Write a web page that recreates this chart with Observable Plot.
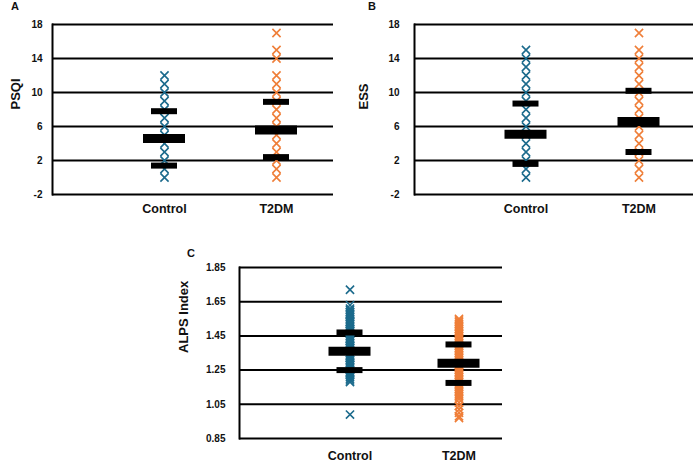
<!DOCTYPE html>
<html><head><meta charset="utf-8">
<script src="https://cdn.jsdelivr.net/npm/d3@7"></script>
<script src="https://cdn.jsdelivr.net/npm/@observablehq/plot@0.6"></script>
<style>
body{margin:0;background:#fff;font-family:"Liberation Sans",Arial,sans-serif;}
#root{position:relative;width:694px;height:465px;overflow:hidden;background:#fff;}
.panel{position:absolute;}
.letter{position:absolute;font-weight:bold;font-size:11px;line-height:11px;color:#111;}
</style></head><body><div id="root"></div>
<script>
const groups = ["Control", "T2DM"];
const groupColors = ["#1b6a8c", "#ef7e38"];

// Panel A: PSQI
const psqiControl = [0,1,2,3,4,5,6,7,8,9,10,11,12];
const psqiT2DM = [0,1,2,3,4,5,6,7,8,9,10,11,12,14,15,17];
const psqiMean = [4.6, 5.6];
const psqiUpper = [7.8, 8.9];
const psqiLower = [1.4, 2.4];
const psqiTicks = [-2, 2, 6, 10, 14, 18];

// Panel B: ESS
const essControl = [0,1,2,3,4,5,6,7,8,9,10,11,12,13,14,15];
const essT2DM = [0,1,2,3,4,5,6,7,8,9,10,11,12,13,14,15,17];
const essMean = [5.1, 6.6];
const essUpper = [8.7, 10.2];
const essLower = [1.6, 3.0];
const essTicks = [-2, 2, 6, 10, 14, 18];

// Panel C: ALPS index
const alpsControl = [1.72,1.63,1.61,1.60,1.59,1.58,1.58,1.57,1.56,1.55,1.54,1.53,1.53,1.52,1.51,1.50,1.49,1.48,1.48,1.47,1.46,1.45,1.44,1.43,1.43,1.42,1.41,1.40,1.39,1.38,1.38,1.37,1.36,1.35,1.34,1.33,1.33,1.32,1.31,1.30,1.29,1.28,1.28,1.27,1.26,1.25,1.24,1.23,1.23,1.22,1.21,1.20,1.19,1.18,0.99];
const alpsT2DM = [1.55,1.54,1.53,1.52,1.51,1.50,1.49,1.48,1.47,1.46,1.45,1.44,1.43,1.42,1.41,1.40,1.39,1.38,1.37,1.36,1.35,1.34,1.33,1.32,1.31,1.30,1.29,1.28,1.27,1.26,1.25,1.24,1.23,1.22,1.21,1.20,1.19,1.18,1.17,1.16,1.15,1.14,1.13,1.12,1.11,1.10,1.09,1.08,1.06,1.04,1.02,1.00,0.98,0.97];
const alpsMean = [1.36, 1.29];
const alpsUpper = [1.47, 1.40];
const alpsLower = [1.25, 1.175];
const alpsTicks = [0.85, 1.05, 1.25, 1.45, 1.65, 1.85];

function toPoints(a, b) {
  return [...a.map(v => ({g: groups[0], v})), ...b.map(v => ({g: groups[1], v}))];
}
function toStats(arr) { return arr.map((v, i) => ({g: groups[i], v})); }

function panel(cfg) {
  const bw = (cfg.range[1] - cfg.range[0]) / 2;
  const meanInset = (bw - 42) / 2;
  const sdInset = (bw - 26) / 2;
  const chart = Plot.plot({
    width: cfg.width, height: cfg.height,
    marginLeft: cfg.ml, marginRight: cfg.mr, marginTop: cfg.mt, marginBottom: cfg.mb,
    x: {type: "band", domain: groups, range: cfg.range, padding: 0},
    y: {domain: cfg.domain},
    color: {domain: groups, range: groupColors},
    style: {fontFamily: '"Liberation Sans", Arial, sans-serif', color: "#111", background: "transparent", overflow: "visible"},
    marks: [
      Plot.ruleY(cfg.ticks, {stroke: "#000", strokeWidth: 2}),
      Plot.frame({anchor: "left", stroke: "#000", strokeWidth: 2}),
      Plot.dot(cfg.points, {x: "g", y: "v", symbol: "times", r: 3.8, stroke: "g", strokeWidth: 1.6}),
      Plot.tickY(cfg.sd, {x: "g", y: "v", stroke: "#000", strokeWidth: 6, insetLeft: sdInset, insetRight: sdInset}),
      Plot.tickY(cfg.mean, {x: "g", y: "v", stroke: "#000", strokeWidth: 9, insetLeft: meanInset, insetRight: meanInset}),
      Plot.axisY(cfg.ticks, {tickSize: 0, tickPadding: cfg.tp, tickFormat: cfg.fmt, fontSize: 10, fontWeight: "bold", label: null}),
      Plot.axisX({tickSize: 0, tickPadding: cfg.xp, fontSize: 12.5, fontWeight: "bold", label: null}),
      Plot.text([cfg.label], {frameAnchor: "left", rotate: -90, dx: -cfg.lo, fontSize: 13, fontWeight: "bold"})
    ]
  });
  const div = document.createElement("div");
  div.className = "panel";
  div.style.left = cfg.left + "px";
  div.style.top = cfg.top + "px";
  div.appendChild(chart);
  document.getElementById("root").appendChild(div);
}

function letter(t, x, y) {
  const d = document.createElement("div");
  d.className = "letter";
  d.textContent = t;
  d.style.left = x + "px";
  d.style.top = y + "px";
  document.getElementById("root").appendChild(d);
}

panel({left: 0, top: 0, width: 345, height: 220, ml: 52, mr: 12, mt: 24, mb: 26,
  range: [108, 332], domain: [-2, 18], ticks: psqiTicks, fmt: d => d, tp: 10, xp: 10,
  label: "PSQI", lo: 37,
  points: toPoints(psqiControl, psqiT2DM), mean: toStats(psqiMean), sd: [...toStats(psqiUpper), ...toStats(psqiLower)]});

panel({left: 345, top: 0, width: 349, height: 220, ml: 69, mr: 1, mt: 24, mb: 26,
  range: [123.5, 349.5], domain: [-2, 18], ticks: essTicks, fmt: d => d, tp: 15, xp: 10,
  label: "ESS", lo: 51,
  points: toPoints(essControl, essT2DM), mean: toStats(essMean), sd: [...toStats(essUpper), ...toStats(essLower)]});

panel({left: 150, top: 220, width: 355, height: 245, ml: 89, mr: 3, mt: 47, mb: 27,
  range: [144.5, 362.5], domain: [0.85, 1.85], ticks: alpsTicks, fmt: d3.format(".2f"), tp: 14, xp: 13,
  label: "ALPS Index", lo: 56,
  points: toPoints(alpsControl, alpsT2DM), mean: toStats(alpsMean), sd: [...toStats(alpsUpper), ...toStats(alpsLower)]});

letter("A", 11, 1);
letter("B", 368, 1);
letter("C", 187, 248);
</script>
</body></html>
